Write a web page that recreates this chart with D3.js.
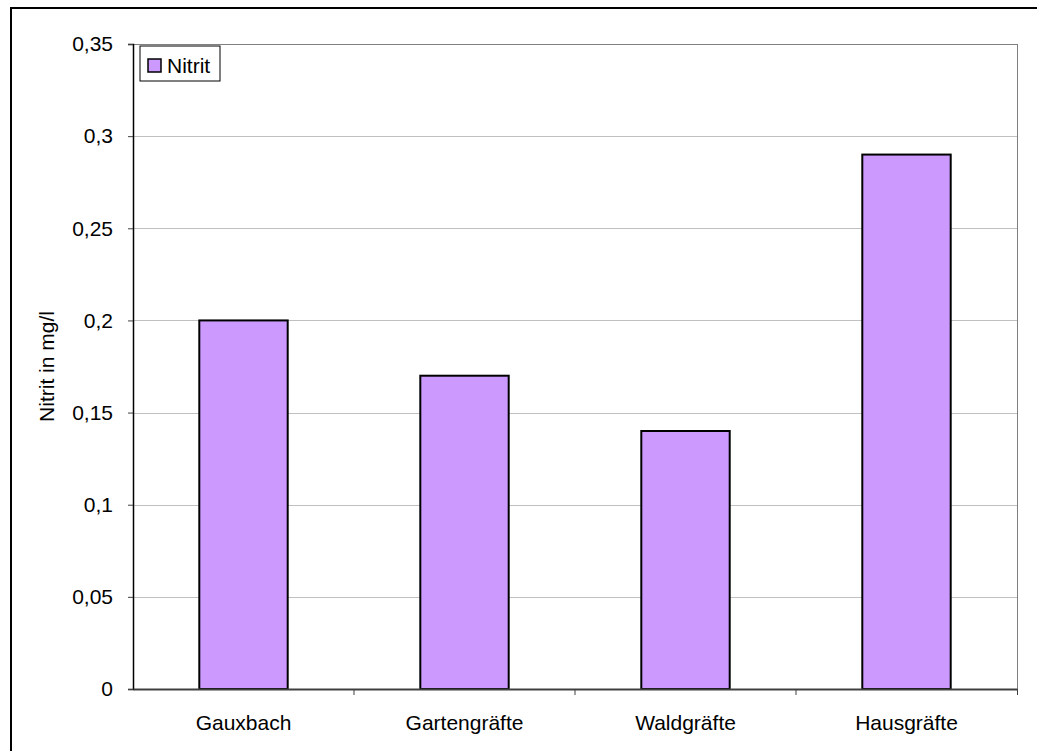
<!DOCTYPE html>
<html>
<head>
<meta charset="utf-8">
<script src="https://cdn.jsdelivr.net/npm/d3@7"></script>
<style>
  body { margin: 0; background: #fff; }
  text { font-family: "Liberation Sans", Arial, sans-serif; fill: #000; }
</style>
</head>
<body>
<div id="chart"></div>
<script>
// data
var stations = ["Gauxbach", "Gartengräfte", "Waldgräfte", "Hausgräfte"];
var nitrit = [0.2, 0.17, 0.14, 0.29];
var yTicks = [0, 0.05, 0.1, 0.15, 0.2, 0.25, 0.3, 0.35];

var width = 1037, height = 751;
var plot = {left: 133, right: 1017, top: 44, bottom: 689};

var svg = d3.select("#chart")
	.append("svg")
	.attr("width", width)
	.attr("height", height)

// outer frame (right and bottom edges run off the picture)
svg.append("rect")
	.attr("x", 11).attr("y", 8)
	.attr("width", 1100).attr("height", 800)
	.attr("fill", "none")
	.attr("stroke", "#000")
	.attr("stroke-width", 2)

var x = d3.scaleBand()
	.domain(stations)
	.range([plot.left, plot.right])
	.paddingInner(0)

var y = d3.scaleLinear()
	.domain([0, 0.35])
	.range([plot.bottom, plot.top])

var fmt = d => d3.format("")(d).replace(".", ",");

// gridlines
svg.append("g")
	.selectAll("line")
	.data(yTicks.filter(d => d > 0))
	.enter()
	.append("line")
	.attr("x1", plot.left).attr("x2", plot.right)
	.attr("y1", d => Math.round(y(d)) + 0.5)
	.attr("y2", d => Math.round(y(d)) + 0.5)
	.attr("stroke", d => d == 0.35 ? "#808080" : "#c0c0c0")
	.attr("stroke-width", 1)

// right border of plot area
svg.append("line")
	.attr("x1", plot.right + 0.5).attr("x2", plot.right + 0.5)
	.attr("y1", plot.top).attr("y2", plot.bottom)
	.attr("stroke", "#808080")

// bars
var bw = x.bandwidth() * 0.4;
svg.append("g")
	.selectAll("rect")
	.data(nitrit)
	.enter()
	.append("rect")
	.attr("x", (d, i) => x(stations[i]) + x.bandwidth() / 2 - bw / 2)
	.attr("y", d => y(d))
	.attr("width", bw)
	.attr("height", d => y(0) - y(d))
	.attr("fill", "#cc99ff")
	.attr("stroke", "#000")
	.attr("stroke-width", 2)

// y axis
var yAxis = svg.append("g")
	.attr("transform", "translate(" + plot.left + ",0)")
	.call(d3.axisLeft(y).tickValues(yTicks).tickFormat(fmt).tickSize(5).tickPadding(15))
yAxis.select(".domain").attr("stroke", "#000").attr("stroke-width", 1.5)
yAxis.selectAll(".tick line").attr("stroke", "#404040")
yAxis.selectAll("text")
	.style("font-family", "Liberation Sans, Arial, sans-serif")
	.style("font-size", "21px")
	.attr("fill", "#111")

// x axis
var xAxis = svg.append("g")
	.attr("transform", "translate(0," + plot.bottom + ")")
	.call(d3.axisBottom(x).tickSize(0).tickPadding(26))
xAxis.select(".domain").attr("stroke", "#404040").attr("stroke-width", 2)
xAxis.selectAll("text")
	.style("font-family", "Liberation Sans, Arial, sans-serif")
	.style("font-size", "21px")
	.attr("fill", "#111")

// category separator ticks
svg.append("g")
	.selectAll("line")
	.data(stations.slice(1).concat(["end"]))
	.enter()
	.append("line")
	.attr("x1", d => d == "end" ? plot.right + 0.5 : x(d))
	.attr("x2", d => d == "end" ? plot.right + 0.5 : x(d))
	.attr("y1", plot.bottom).attr("y2", plot.bottom + 6)
	.attr("stroke", "#404040")

// axis title
svg.append("text")
	.attr("transform", "translate(54," + (plot.top + plot.bottom) / 2 + ") rotate(-90)")
	.attr("text-anchor", "middle")
	.style("font-size", "21px")
	.text("Nitrit in mg/l")

// legend
var legend = svg.append("g").attr("transform", "translate(140,46)")
legend.append("rect")
	.attr("width", 80).attr("height", 35)
	.attr("fill", "#fff")
	.attr("stroke", "#000")
legend.append("rect")
	.attr("x", 8).attr("y", 13)
	.attr("width", 13).attr("height", 13)
	.attr("fill", "#cc99ff")
	.attr("stroke", "#000")
	.attr("stroke-width", 1.5)
legend.append("text")
	.attr("x", 27).attr("y", 27)
	.style("font-size", "21px")
	.text("Nitrit")
</script>
</body>
</html>
